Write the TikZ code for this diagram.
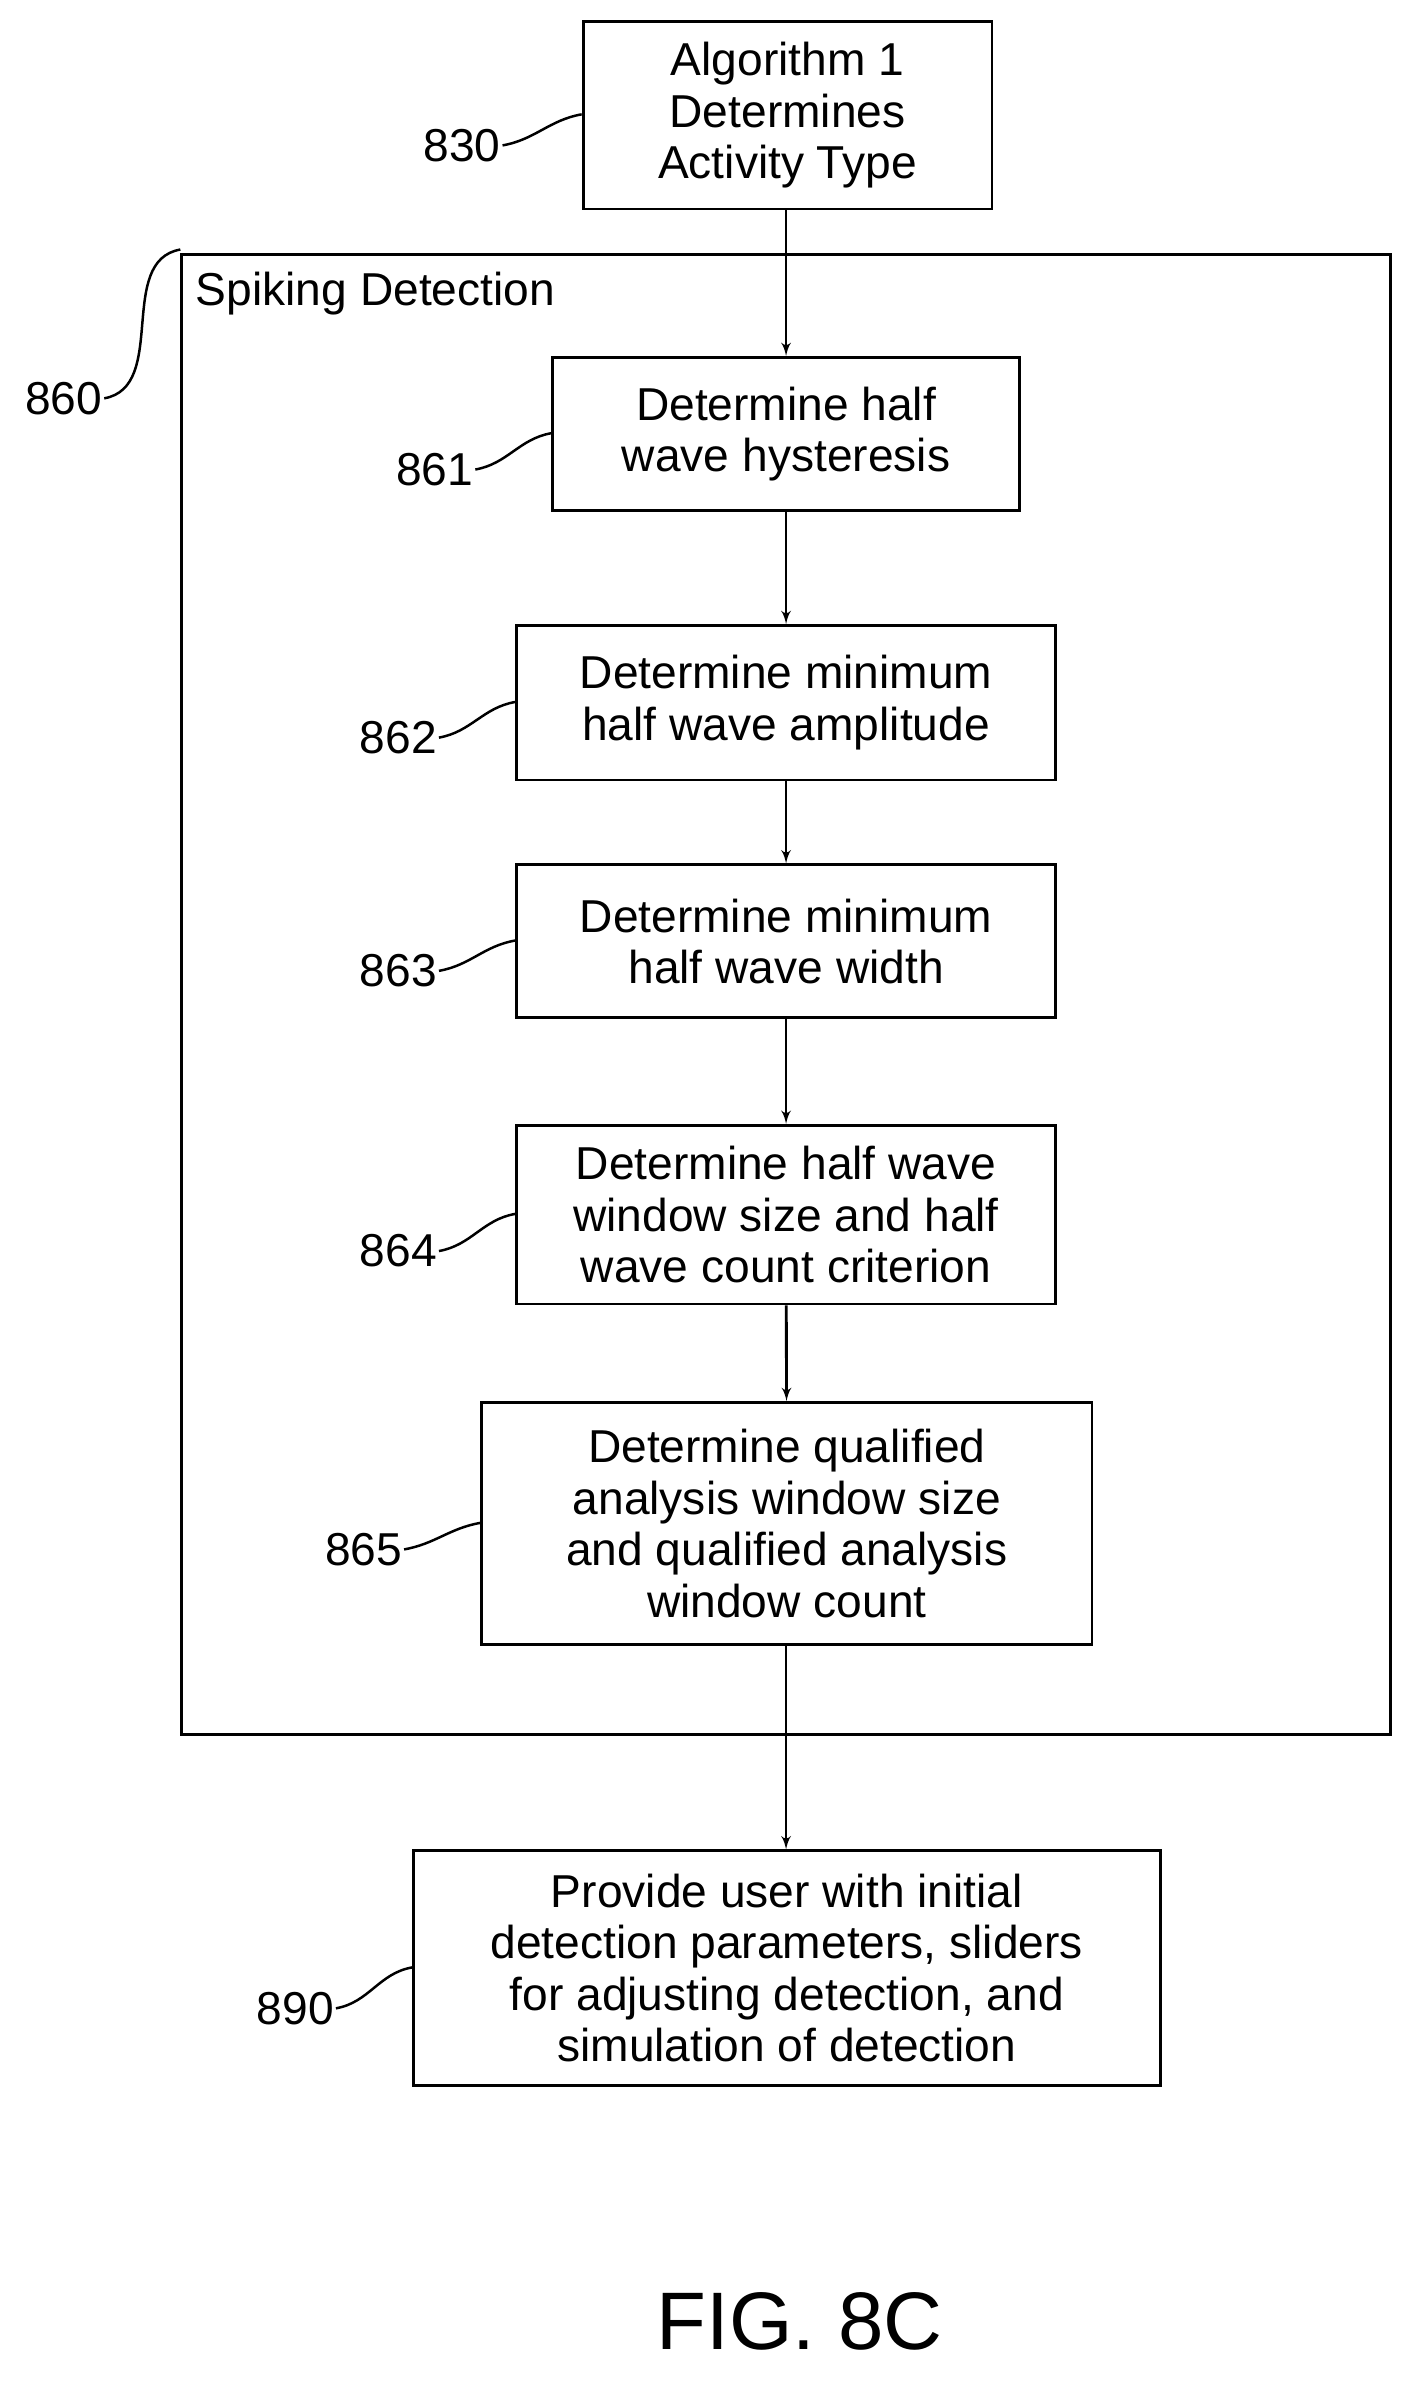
\documentclass[tikz,border=0pt]{standalone}
\usepackage{fontspec}
\setmainfont{Liberation Sans}
\usetikzlibrary{positioning,arrows,calc}
\tikzset{
    x=0.03cm,
    y=-0.03cm,
    block/.style = {
        draw,
        shape=rectangle,
        align=center,
        inner sep=0pt,
        line width=1.6pt,
        font=\fontsize{26}{29}\selectfont
    },
    tag/.style = {
        font=\fontsize{26}{29}\selectfont,
        inner sep=1pt
    },
    lead/.style = {
        draw,
        line width=1.4pt,
        out=10,
        in=190
    },
    >=latex',
}
\begin{document}
\begin{tikzpicture}
                \useasboundingbox (0,0) rectangle (940,1580);
                \node[block, minimum width=270*0.03cm, minimum height=124*0.03cm] (algo) at (520,76) {Algorithm 1\\Determines\\Activity Type};
                \node[draw, line width=1.6pt, minimum width=798*0.03cm, minimum height=977*0.03cm, inner sep=0pt] (spike) at (519,656.5) {};
                \node[tag, anchor=north west] (spiketxt) at (128,178) {Spiking Detection};
                \node[block, minimum width=308*0.03cm, minimum height=101*0.03cm] (hyst) at (519,286.5) {Determine half\\wave hysteresis};
                \node[block, minimum width=356*0.03cm, minimum height=102*0.03cm] (amp) at (519,464) {Determine minimum\\half wave amplitude};
                \node[block, minimum width=356*0.03cm, minimum height=101*0.03cm] (width) at (519,621.5) {Determine minimum\\half wave width};
                \node[block, minimum width=356*0.03cm, minimum height=118*0.03cm] (count) at (519,802) {Determine half wave\\window size and half\\wave count criterion};
                \node[block, minimum width=403*0.03cm, minimum height=160*0.03cm] (qual) at (519.5,1006) {Determine qualified\\analysis window size\\and qualified analysis\\window count};
                \node[block, minimum width=493*0.03cm, minimum height=155*0.03cm] (user) at (519.5,1299.5) {Provide user with initial\\detection parameters, sliders\\for adjusting detection, and\\simulation of detection};
                \node[font=\fontsize{46}{50}\selectfont] (fig) at (528,1533) {FIG. 8C};

                % reference numerals
                \node[tag] (n830) at (305,96) {830};
                \node[tag] (n860) at (42,263) {860};
                \node[tag] (n861) at (287,310) {861};
                \node[tag] (n862) at (263,487) {862};
                \node[tag] (n863) at (263,641) {863};
                \node[tag] (n864) at (263,826) {864};
                \node[tag] (n865) at (240,1023) {865};
                \node[tag] (n890) at (195,1326) {890};
                \path[lead] (n830.east) to ($(algo.west)+(0,-0.5)$);
                \path[lead] (n860.east) to ($(spike.north west)+(0,-2.3)$);
                \path[lead] (n861.east) to ($(hyst.west)+(0,-0.5)$);
                \path[lead] (n862.east) to ($(amp.west)+(0,-0.5)$);
                \path[lead] (n863.east) to ($(width.west)+(0,-0.5)$);
                \path[lead] (n864.east) to ($(count.west)+(0,-0.5)$);
                \path[lead] (n865.east) to ($(qual.west)+(0,-0.5)$);
                \path[lead] (n890.east) to ($(user.west)+(0,-0.5)$);

                % flow
                \path[draw, line width=1.6pt, ->] (algo.south -| hyst.north) -- (hyst);
                \path[draw, line width=1.6pt, ->] (hyst) -- (amp);
                \path[draw, line width=1.6pt, ->] (amp) -- (width);
                \path[draw, line width=1.6pt, ->] (width) -- (count);
                \path[draw, line width=1.6pt, ->] (count) -- (qual);
                \path[draw, line width=1.6pt, ->] (qual.south -| hyst.south) -- (user.north -| hyst.south);
\end{tikzpicture}
\end{document}
